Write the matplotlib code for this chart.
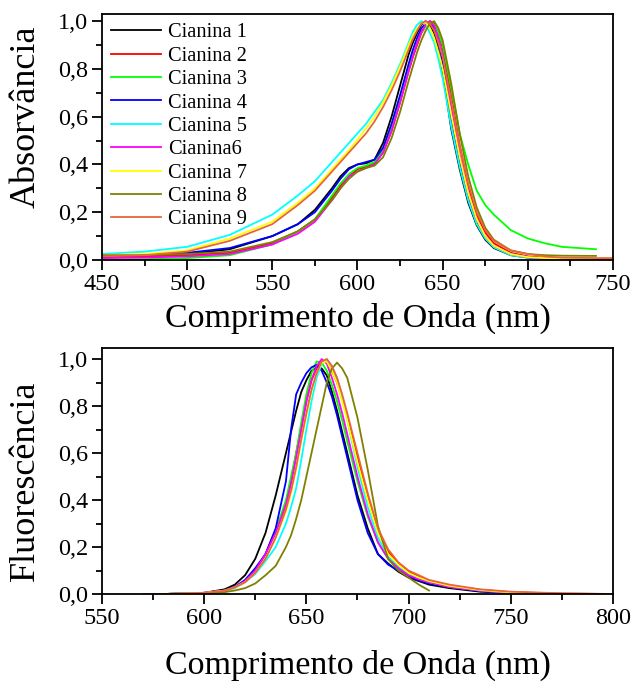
import numpy as np
import matplotlib
matplotlib.use("Agg")
import matplotlib.pyplot as plt
from matplotlib.ticker import MultipleLocator, FuncFormatter

plt.rcParams['font.family'] = ['Liberation Serif', 'DejaVu Serif']

labels = ["Cianina 1", "Cianina 2", "Cianina 3", "Cianina 4", "Cianina 5",
          "Cianina6", "Cianina 7", "Cianina 8", "Cianina 9"]
colors = ["#000000", "#FF0000", "#00FF00", "#0000FF", "#00FFFF",
          "#FF00FF", "#FFFF00", "#808000", "#E8643C"]
nan = np.nan

# ---------------- Absorbance ----------------
wl_abs = [450, 475, 500, 525, 550, 565, 575, 585, 590, 595, 600, 605, 610, 615,
          620, 625, 630, 632.5, 635, 637.5, 640, 642.5, 645, 647.5, 650, 655, 660, 665,
          670, 675, 680, 690, 700, 710, 720, 740, 750]
abs_1 = [0.01, 0.015, 0.025, 0.045, 0.10, 0.15, 0.21, 0.30, 0.35, 0.385, 0.40, 0.405, 0.42, 0.49,
         0.60, 0.73, 0.86, 0.91, 0.95, 0.985, 1.00, 0.985, 0.95, 0.88, 0.79, 0.55, 0.38, 0.24,
         0.145, 0.085, 0.05, 0.02, 0.01, 0.005, 0.003, 0.002, 0.002]
abs_2 = [0.015, 0.015, 0.02, 0.03, 0.07, 0.12, 0.17, 0.26, 0.31, 0.35, 0.38, 0.39, 0.405, 0.45,
         0.54, 0.66, 0.79, 0.85, 0.90, 0.95, 0.98, 1.00, 0.99, 0.95, 0.89, 0.69, 0.48, 0.31,
         0.19, 0.115, 0.07, 0.03, 0.015, 0.008, 0.005, 0.004, 0.004]
abs_3 = [0.0, 0.003, 0.008, 0.02, 0.065, 0.12, 0.17, 0.27, 0.32, 0.36, 0.385, 0.395, 0.41, 0.46,
         0.55, 0.67, 0.80, 0.86, 0.91, 0.955, 0.98, 0.995, 0.985, 0.95, 0.90, 0.72, 0.53, 0.40,
         0.29, 0.23, 0.19, 0.125, 0.09, 0.07, 0.055, 0.045, nan]
abs_4 = [0.02, 0.02, 0.03, 0.05, 0.10, 0.15, 0.20, 0.29, 0.34, 0.38, 0.40, 0.41, 0.42, 0.47,
         0.57, 0.69, 0.82, 0.88, 0.93, 0.97, 0.99, 0.995, 0.97, 0.91, 0.83, 0.60, 0.41, 0.26,
         0.16, 0.095, 0.055, 0.025, 0.012, 0.008, 0.005, 0.003, 0.002]
abs_5 = [0.025, 0.035, 0.055, 0.105, 0.19, 0.27, 0.33, 0.41, 0.45, 0.49, 0.53, 0.57, 0.62, 0.67,
         0.74, 0.82, 0.91, 0.955, 0.985, 1.00, 0.985, 0.95, 0.91, 0.84, 0.76, 0.56, 0.39, 0.25,
         0.15, 0.09, 0.053, 0.02, 0.01, 0.007, 0.005, 0.004, 0.004]
abs_6 = [0.008, 0.01, 0.015, 0.025, 0.065, 0.11, 0.16, 0.25, 0.30, 0.35, 0.37, 0.385, 0.40, 0.45,
         0.54, 0.66, 0.79, 0.85, 0.91, 0.955, 0.985, 1.00, 0.98, 0.93, 0.86, 0.64, 0.44, 0.28,
         0.17, 0.10, 0.06, 0.025, 0.012, 0.007, 0.005, 0.004, 0.004]
abs_7 = [0.02, 0.025, 0.04, 0.09, 0.16, 0.24, 0.30, 0.38, 0.42, 0.46, 0.505, 0.55, 0.60, 0.66,
         0.73, 0.81, 0.90, 0.94, 0.97, 0.99, 0.995, 0.97, 0.93, 0.87, 0.80, 0.61, 0.43, 0.28,
         0.17, 0.10, 0.06, 0.025, 0.012, 0.008, 0.006, 0.005, 0.005]
abs_8 = [0.02, 0.02, 0.025, 0.035, 0.075, 0.12, 0.17, 0.25, 0.30, 0.34, 0.37, 0.385, 0.395, 0.43,
         0.51, 0.62, 0.75, 0.81, 0.87, 0.92, 0.96, 0.99, 1.00, 0.97, 0.92, 0.74, 0.53, 0.35,
         0.22, 0.135, 0.085, 0.04, 0.025, 0.02, 0.018, 0.017, nan]
abs_9 = [0.015, 0.02, 0.035, 0.08, 0.15, 0.23, 0.29, 0.37, 0.41, 0.45, 0.49, 0.53, 0.58, 0.64,
         0.71, 0.79, 0.88, 0.925, 0.96, 0.99, 1.00, 0.99, 0.96, 0.91, 0.85, 0.67, 0.48, 0.32,
         0.20, 0.125, 0.08, 0.04, 0.025, 0.015, 0.01, 0.008, 0.008]
abs_series = [abs_1, abs_2, abs_3, abs_4, abs_5, abs_6, abs_7, abs_8, abs_9]

# ---------------- Fluorescence ----------------
wl_fl = [570, 580, 600, 610, 615, 620, 625, 630, 635, 640, 642.5, 645, 647.5, 650, 652.5,
         655, 657.5, 660, 662.5, 665, 667.5, 670, 675, 680, 685, 690, 695, 700, 705, 710,
         720, 735, 750, 775, 800]
fl_1 = [0.0, 0.0, 0.005, 0.02, 0.04, 0.08, 0.15, 0.26, 0.42, 0.60, 0.69, 0.78, 0.86, 0.91, 0.95,
        0.965, 0.96, 0.93, 0.86, 0.78, 0.69, 0.60, 0.42, 0.28, 0.17, 0.13, 0.095, 0.07, 0.055, 0.04,
        0.025, 0.01, 0.005, 0.0, 0.0]
fl_2 = [0.0, 0.0, 0.005, 0.015, 0.03, 0.055, 0.10, 0.17, 0.27, 0.38, 0.48, 0.60, 0.71, 0.82, 0.91,
        0.96, 0.99, 0.99, 0.95, 0.90, 0.83, 0.75, 0.58, 0.41, 0.27, 0.18, 0.13, 0.095, 0.075, 0.055,
        0.035, 0.018, 0.008, 0.002, 0.0]
fl_3 = [0.0, 0.0, 0.005, 0.015, 0.03, 0.055, 0.10, 0.17, 0.27, 0.40, 0.50, 0.60, 0.73, 0.85, 0.94,
        0.99, 0.985, 0.95, 0.89, 0.82, 0.74, 0.65, 0.48, 0.33, 0.22, 0.15, 0.11, 0.08, 0.063, 0.05,
        0.03, 0.015, 0.005, 0.0, 0.0]
fl_4 = [0.0, 0.0, 0.005, 0.015, 0.03, 0.06, 0.11, 0.17, 0.28, 0.48, 0.70, 0.85, 0.90, 0.94, 0.965,
        0.975, 0.95, 0.90, 0.84, 0.76, 0.67, 0.58, 0.40, 0.26, 0.17, 0.125, 0.10, 0.075, 0.058, 0.045,
        0.03, 0.012, 0.005, 0.0, 0.0]
fl_5 = [0.0, 0.0, 0.004, 0.012, 0.025, 0.05, 0.085, 0.14, 0.20, 0.30, 0.37, 0.45, 0.57, 0.70, 0.82,
        0.92, 0.98, 1.00, 0.97, 0.92, 0.84, 0.74, 0.54, 0.37, 0.24, 0.16, 0.115, 0.085, 0.065, 0.05,
        0.032, 0.015, 0.006, 0.0, 0.0]
fl_6 = [0.0, 0.0, 0.005, 0.015, 0.03, 0.055, 0.10, 0.17, 0.26, 0.38, 0.47, 0.58, 0.70, 0.82, 0.91,
        0.97, 1.00, 0.98, 0.92, 0.85, 0.77, 0.68, 0.50, 0.34, 0.22, 0.15, 0.11, 0.08, 0.063, 0.05,
        0.03, 0.015, 0.005, 0.0, 0.0]
fl_7 = [0.0, 0.0, 0.005, 0.014, 0.028, 0.05, 0.09, 0.15, 0.24, 0.35, 0.43, 0.53, 0.65, 0.76, 0.86,
        0.94, 0.985, 0.99, 0.95, 0.90, 0.82, 0.74, 0.56, 0.40, 0.26, 0.17, 0.125, 0.09, 0.07, 0.055,
        0.035, 0.017, 0.007, 0.001, 0.0]
fl_8 = [0.0, 0.0, 0.002, 0.008, 0.015, 0.025, 0.045, 0.08, 0.12, 0.20, 0.25, 0.32, 0.40, 0.50, 0.60,
        0.70, 0.80, 0.90, 0.96, 0.985, 0.96, 0.92, 0.75, 0.53, 0.29, 0.15, 0.10, 0.07, 0.04, 0.015,
        nan, nan, nan, nan, nan]
fl_9 = [0.0, 0.0, 0.005, 0.014, 0.028, 0.05, 0.09, 0.15, 0.24, 0.36, 0.44, 0.54, 0.66, 0.77, 0.87,
        0.94, 0.99, 1.00, 0.97, 0.92, 0.85, 0.77, 0.60, 0.43, 0.28, 0.19, 0.135, 0.10, 0.08, 0.06,
        0.04, 0.02, 0.01, 0.003, 0.0]
fl_series = [fl_1, fl_2, fl_3, fl_4, fl_5, fl_6, fl_7, fl_8, fl_9]

fig = plt.figure(figsize=(6.33, 6.82), dpi=100)
ax1 = fig.add_axes([0.1611, 0.6188, 0.8073, 0.3607])
ax2 = fig.add_axes([0.1611, 0.1290, 0.8073, 0.3607])

comma = FuncFormatter(lambda v, p: f"{v:.1f}".replace(".", ","))

for lab, col, ys in zip(labels, colors, abs_series):
    ax1.plot(wl_abs, ys, color=col, lw=1.3, label=lab)
for lab, col, ys in zip(labels, colors, fl_series):
    ax2.plot(wl_fl, ys, color=col, lw=1.3, label=lab)

ax1.set_xlim(450, 750)
ax1.set_ylim(0, 1.03)
ax2.set_xlim(550, 800)
ax2.set_ylim(0, 1.047)

for ax in (ax1, ax2):
    ax.xaxis.set_major_locator(MultipleLocator(50))
    ax.xaxis.set_minor_locator(MultipleLocator(25))
    ax.yaxis.set_major_locator(MultipleLocator(0.2))
    ax.yaxis.set_minor_locator(MultipleLocator(0.1))
    ax.yaxis.set_major_formatter(comma)
    ax.tick_params(which='both', direction='out', top=False, right=False, labelsize=17.5,
                   width=1.3, pad=3)
    ax.tick_params(which='major', length=7)
    ax.tick_params(which='minor', length=4)
    for s in ax.spines.values():
        s.set_linewidth(1.3)
    ax.set_xlabel("Comprimento de Onda (nm)", fontsize=24.5)

ax1.set_ylabel("Absorvância", fontsize=26)
ax2.set_ylabel("Fluorescência", fontsize=26)
ax1.yaxis.set_label_coords(-0.117, 0.58)
ax2.yaxis.set_label_coords(-0.117, 0.46)
ax1.xaxis.set_label_coords(0.5, -0.175)
ax2.xaxis.set_label_coords(0.5, -0.225)

ax1.legend(loc='upper left', bbox_to_anchor=(0.0, 1.0), frameon=False, fontsize=14.7,
           handlelength=2.45, handletextpad=0.35, labelspacing=0.2, borderaxespad=0.3,
           borderpad=0.15)

fig.savefig("out.png", dpi=100)
